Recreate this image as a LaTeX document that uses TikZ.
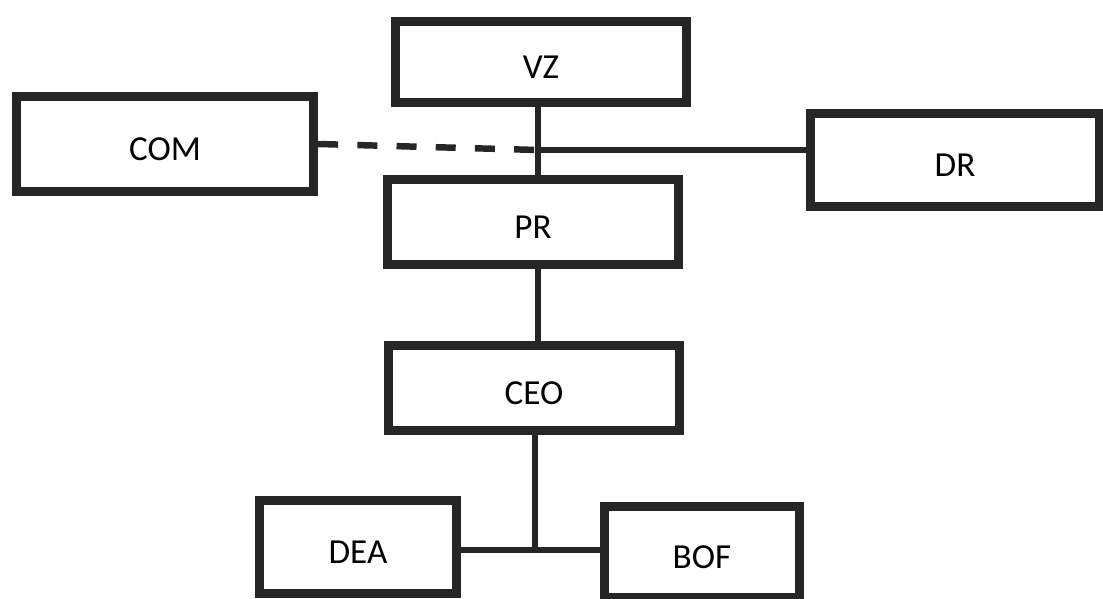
\documentclass[tikz,border=0pt]{standalone}
\usepackage{fontspec}
\setmainfont{Carlito}
\usepackage{tikz}
\usetikzlibrary{positioning, calc}

\tikzset{
  orgbox/.style={draw=black!85, line width=6.4pt, fill=white, inner sep=0pt,
                 text height=23pt, text depth=0pt,
                 font=\fontsize{25}{30}\selectfont},
  orgline/.style={draw=black!85, line width=3.6pt},
  orgdash/.style={draw=black!85, line width=4.6pt, dash pattern=on 0.5cm off 0.48cm}
}

\begin{document}
\begin{tikzpicture}[x=0.025cm, y=-0.025cm]
  \useasboundingbox (0,0) rectangle (1103,598);

  % Top row
  \node[orgbox, minimum width=7.28cm, minimum height=2.0cm] (vz) at (541,62) {VZ};
  \node[orgbox, minimum width=7.43cm, minimum height=2.35cm] (com) at (165,144) {COM};
  \node[orgbox, minimum width=7.2cm, minimum height=2.3cm] (dr) at (955,160) {DR};

  % Middle column
  \node[orgbox, minimum width=7.28cm, minimum height=2.13cm] (pr) at (533,222) {PR};
  \node[orgbox, minimum width=7.25cm, minimum height=2.13cm] (ceo) at (534,388) {CEO};

  % Bottom row
  \node[orgbox, minimum width=4.93cm, minimum height=2.33cm] (dea) at (358,547) {DEA};
  \node[orgbox, minimum width=4.88cm, minimum height=2.28cm] (bof) at (702,552) {BOF};

  % Junctions
  \coordinate (jtop) at (538,150);
  \coordinate (jbot) at (535,550);

  % Connectors
  \draw[orgline] (jtop |- vz.south) -- (jtop |- pr.north);
  \draw[orgdash] (com.east) -- (jtop);
  \draw[orgline] (jtop) -- (jtop -| dr.west);
  \draw[orgline] (jtop |- pr.south) -- (jtop |- ceo.north);
  \draw[orgline] (jbot |- ceo.south) -- (jbot);
  \draw[orgline] (jbot -| dea.east) -- (jbot -| bof.west);
\end{tikzpicture}
\end{document}
